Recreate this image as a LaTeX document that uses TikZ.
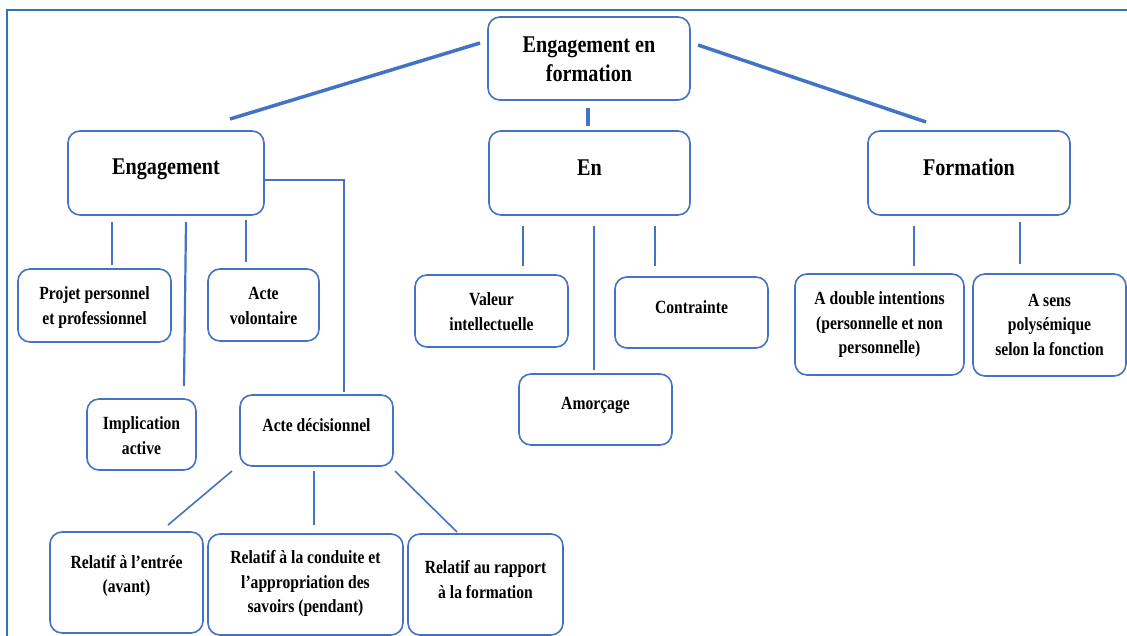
\documentclass[tikz,border=0pt]{standalone}
\usepackage{fontspec}
\setmainfont{Liberation Serif}[FakeStretch=0.84]
\definecolor{boxblue}{HTML}{4472C4}
\definecolor{framblue}{HTML}{2E75B6}
\tikzset{
  box/.style={draw=boxblue, line width=1.6pt, rounded corners=12pt, fill=white, inner sep=0pt},
  txt/.style={align=center, inner sep=0pt, font=\bfseries\fontsize{18.6}{24.5}\selectfont, text=black},
  bigtxt/.style={align=center, inner sep=0pt, font=\bfseries\fontsize{24}{29}\selectfont, text=black},
  thick link/.style={draw=boxblue, line width=3.5pt},
  thin link/.style={draw=boxblue, line width=2.2pt},
}
\newcommand\mybx[8]{%
  \pgfmathsetmacro\cx{(#2+#4)/2}%
  \pgfmathsetmacro\cy{(#3+#5)/2}%
  \pgfmathsetmacro\ww{#4-#2}%
  \pgfmathsetmacro\hh{#5-#3}%
  \node[box, minimum width=\ww pt, minimum height=\hh pt] (#1) at (\cx,\cy) {};
  \node[#7] (#1t) at (\cx,#6) {#8};
}
\begin{document}
\begin{tikzpicture}[x=1pt,y=-1pt]
\useasboundingbox (0,0) rectangle (1127,636);
% frame
\draw[framblue, line width=2.5pt] (7,636) -- (7,10) -- (1128,10);
% boxes
\mybx{top}{488}{17}{690}{100}{59.5}{bigtxt}{Engagement en\\formation}
\mybx{eng}{68}{131}{264}{215}{169.5}{bigtxt}{Engagement}
\mybx{en}{489}{131}{690}{215}{167.5}{bigtxt}{En}
\mybx{form}{868}{131}{1070}{215}{167.5}{bigtxt}{Formation}
\mybx{projet}{18}{269}{171}{342}{307.5}{txt}{Projet personnel\\et professionnel}
\mybx{acteV}{208}{269}{319}{341}{306}{txt}{Acte\\volontaire}
\mybx{impl}{87}{399}{196}{470}{435.5}{txt}{Implication\\active}
\mybx{acteD}{240}{395}{393}{466}{425}{txt}{Acte décisionnel}
\mybx{relA}{50}{532}{203}{633}{576}{txt}{Relatif à l’entrée\\(avant)}
\mybx{relB}{208}{534}{403}{635}{583.5}{txt}{Relatif à la conduite et\\l’appropriation des\\savoirs (pendant)}
\mybx{relC}{408}{534}{563}{635}{579.5}{txt}{Relatif au rapport\\à la formation}
\mybx{val}{415}{275}{568}{347}{311.5}{txt}{Valeur\\intellectuelle}
\mybx{contr}{615}{277}{768}{348}{307}{txt}{Contrainte}
\mybx{amor}{519}{374}{672}{445}{405}{txt}{Amorçage}
\mybx{dbl}{795}{274}{964}{375}{325}{txt}{A double intentions\\(personnelle et non\\personnelle)}
\mybx{sens}{973}{274}{1126}{376}{324.5}{txt}{A sens\\polysémique\\selon la fonction}
% top-level links
\draw[thick link] (480,43) -- (230,119);
\draw[thick link] (698,45) -- (926,122);
\draw[thick link] (588,108) -- (588,126);
% engagement links
\draw[thin link] (112,222) -- (112,265);
\draw[thin link] (186,222) -- (184,386);
\draw[thin link] (246,220) -- (246,262);
\draw[thin link] (eng.east |- 0,180) -- (344,180) -- (344,392);
% en links
\draw[thin link] (523,226) -- (523,266);
\draw[thin link] (594,226) -- (594,370);
\draw[thin link] (655,226) -- (655,266);
% formation links
\draw[thin link] (914,226) -- (914,266);
\draw[thin link] (1020,222) -- (1020,264);
% acte decisionnel links
\draw[thin link, line width=1.6pt] (232,471) -- (168,525);
\draw[thin link, line width=1.6pt] (314,471) -- (314,525);
\draw[thin link, line width=1.6pt] (395,471) -- (457,532);
\end{tikzpicture}
\end{document}
